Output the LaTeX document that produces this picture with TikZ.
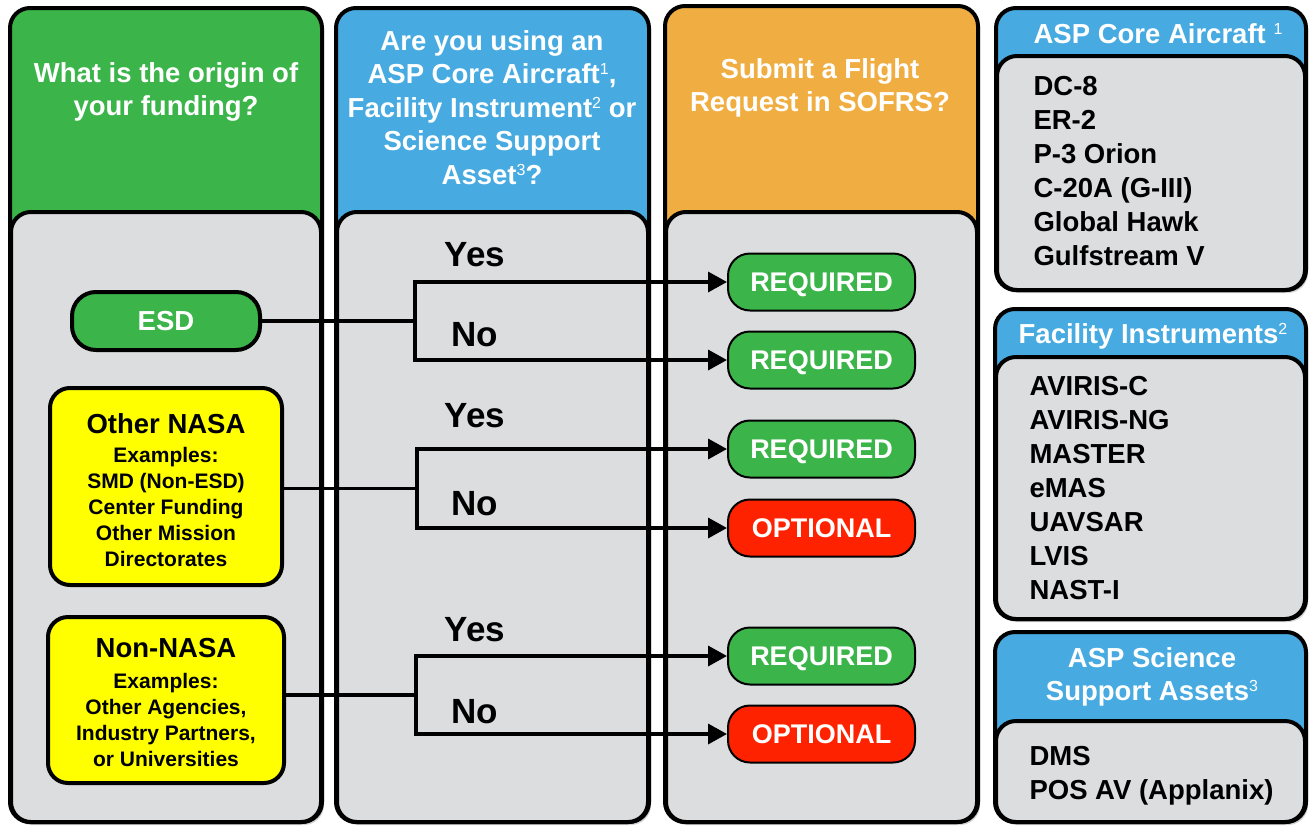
\documentclass[tikz,border=0pt]{standalone}
\usepackage{fontspec}
\setmainfont{Liberation Sans}
\usetikzlibrary{arrows.meta,shadows}
\definecolor{hgreen}{RGB}{59,181,74}
\definecolor{hblue}{RGB}{71,170,224}
\definecolor{horange}{RGB}{240,174,66}
\definecolor{pgray}{RGB}{220,221,223}
\definecolor{hyellow}{RGB}{255,255,0}
\definecolor{hred}{RGB}{255,34,0}
\newcommand\supn[1]{\raisebox{9pt}{\fontsize{16}{16}\selectfont\mdseries #1}}
\begin{document}
\begin{tikzpicture}[x=1pt,y=-1pt,
  panel/.style={draw=black,line width=4pt,rounded corners=20pt,inner sep=0pt,
    drop shadow={shadow xshift=2pt,shadow yshift=-3pt,opacity=0.35}},
  innerpanel/.style={draw=black,line width=4pt,rounded corners=20pt,inner sep=0pt,fill=pgray},
  htext/.style={text=white,font=\fontsize{27.5}{33.5}\selectfont\bfseries,align=center},
  ltext/.style={text=black,font=\fontsize{27.5}{34}\selectfont\bfseries,align=left,anchor=west},
  yn/.style={text=black,font=\fontsize{35}{40}\selectfont\bfseries},
  pill/.style={draw=black,line width=2pt,rounded corners=22pt,minimum width=187pt,minimum height=57pt,
    text height=19.5pt,text depth=0pt,
    text=white,font=\fontsize{27}{30}\selectfont\bfseries},
  fundbox/.style={draw=black,line width=4pt,rounded corners=20pt,fill=hyellow,align=center,inner sep=0pt,
    font=\fontsize{21}{26}\selectfont\bfseries},
  conn/.style={draw=black,line width=3.5pt},
  arr/.style={conn,-{Triangle[length=19pt,width=20pt]}}
]
\useasboundingbox (0,0) rectangle (1309,825);

% columns
\node[panel,fill=hgreen,minimum width=312pt,minimum height=814pt] (c1) at (166,415) {};
\node[innerpanel,minimum width=310pt,minimum height=610pt] (c1i) at (166,517) {};
\node[panel,fill=hblue,minimum width=313pt,minimum height=814pt] (c2) at (492.5,415) {};
\node[innerpanel,minimum width=311pt,minimum height=610pt] (c2i) at (492.5,517) {};
\node[panel,fill=horange,minimum width=313pt,minimum height=816pt] (c3) at (821.5,414) {};
\node[innerpanel,minimum width=311pt,minimum height=610pt] (c3i) at (821.5,517) {};

% right panels
\node[panel,fill=hblue,minimum width=310pt,minimum height=282pt] (p1) at (1151,149) {};
\node[innerpanel,minimum width=308pt,minimum height=234pt] (p1i) at (1151,173) {};
\node[panel,fill=hblue,minimum width=311pt,minimum height=310pt] (p2) at (1150.5,464) {};
\node[innerpanel,minimum width=309pt,minimum height=262pt] (p2i) at (1150.5,488) {};
\node[panel,fill=hblue,minimum width=311pt,minimum height=190pt] (p3) at (1150.5,727) {};
\node[innerpanel,minimum width=309pt,minimum height=101pt] (p3i) at (1150.5,771.5) {};

% headers
\node[htext] (h1) at (166,92) {What is the origin of\\your funding?};
\node[htext] (h2) at (492,107.5) {Are you using an\\ASP Core Aircraft\supn{1},\\Facility Instrument\supn{2} or\\Science Support\\Asset\supn{3}?};
\node[htext] (h3) at (820,88) {Submit a Flight\\Request in SOFRS?};
\node[htext] (ph1) at (1158,34) {ASP Core Aircraft \supn{1}};
\node[htext] (ph2) at (1153,336) {Facility Instruments\supn{2}};
\node[htext] (ph3) at (1152,677) {ASP Science\\Support Assets\supn{3}};

% lists
\node[ltext] (l1) at (1030,171) {DC-8\\ER-2\\P-3 Orion\\C-20A (G-III)\\Global Hawk\\Gulfstream V};
\node[ltext] (l2) at (1026,488) {AVIRIS-C\\AVIRIS-NG\\MASTER\\eMAS\\UAVSAR\\LVIS\\NAST-I};
\node[ltext] (l3) at (1026,775.5) {DMS\\POS AV (Applanix)};

% funding sources
\node[draw=black,line width=4pt,rounded corners=24pt,fill=hgreen,minimum width=188pt,minimum height=58pt,
  text height=19.7pt,text depth=0pt,
  text=white,font=\fontsize{27.5}{30}\selectfont\bfseries] (esd) at (166,321) {ESD};
\node[fundbox,minimum width=232pt,minimum height=197pt,text height=0pt] (onasa) at (166,486.5) {};
\node[font=\fontsize{21}{26}\selectfont\bfseries,align=center] (onasat) at (166,490)
  {{\fontsize{27.5}{29}\selectfont Other NASA}\\[3pt]
   Examples:\\SMD (Non-ESD)\\Center Funding\\Other Mission\\Directorates};
\node[fundbox,minimum width=236pt,minimum height=166pt] (nnasa) at (166,700) {};
\node[font=\fontsize{21}{26}\selectfont\bfseries,align=center] (nnasat) at (166,702)
  {{\fontsize{27.5}{29}\selectfont Non-NASA}\\[5pt]
   Examples:\\Other Agencies,\\Industry Partners,\\or Universities};

% outcomes
\node[pill,fill=hgreen] (r1) at (821.5,282) {REQUIRED};
\node[pill,fill=hgreen] (r2) at (821.5,360) {REQUIRED};
\node[pill,fill=hgreen] (r3) at (821.5,449) {REQUIRED};
\node[pill,fill=hred] (r4) at (821.5,528) {OPTIONAL};
\node[pill,fill=hgreen] (r5) at (821.5,656) {REQUIRED};
\node[pill,fill=hred] (r6) at (821.5,734) {OPTIONAL};

% yes/no labels
\node[yn] (y1) at (475,255) {Yes};
\node[yn] (n1) at (475,335) {No};
\node[yn] (y2) at (475,416) {Yes};
\node[yn] (n2) at (475,504) {No};
\node[yn] (y3) at (475,630) {Yes};
\node[yn] (n3) at (475,712) {No};

% branch points
\coordinate (j1) at (415,321);
\coordinate (j2) at (417,488.5);
\coordinate (j3) at (416,695);

% connectors
\draw[conn] (esd.east |- j1) -- (j1);
\draw[arr] (j1) |- (r1.west);
\draw[arr] (j1) |- (r2.west);
\draw[conn] (onasa.east |- j2) -- (j2);
\draw[arr] (j2) |- (r3.west);
\draw[arr] (j2) |- (r4.west);
\draw[conn] (nnasa.east |- j3) -- (j3);
\draw[arr] (j3) |- (r5.west);
\draw[arr] (j3) |- (r6.west);
\end{tikzpicture}
\end{document}
